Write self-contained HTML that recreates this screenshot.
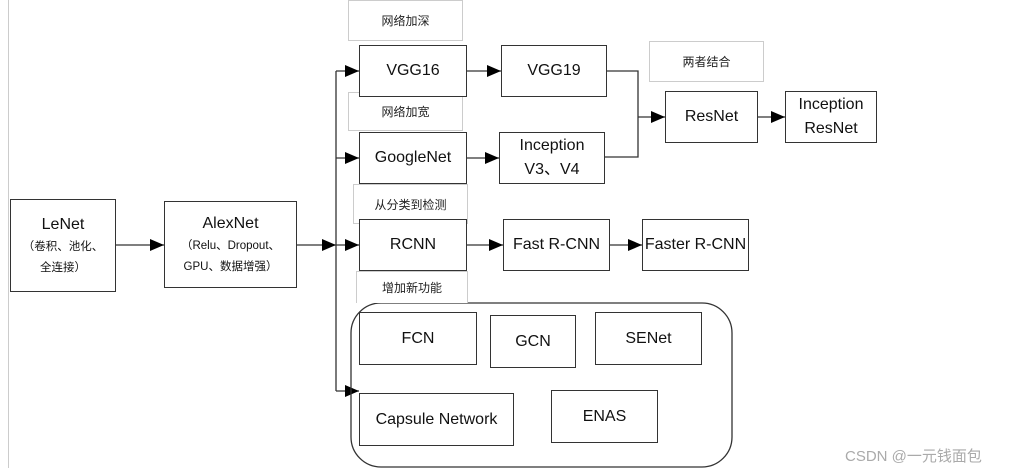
<!DOCTYPE html>
<html><head><meta charset="utf-8"><style>
body{margin:0;width:1016px;height:472px;background:#fff;position:relative;overflow:hidden;font-family:"Liberation Sans","Noto Sans CJK SC",sans-serif;color:#111}
.b{position:absolute;border:1.5px solid #333;box-sizing:border-box;display:flex;flex-direction:column;align-items:center;justify-content:center;text-align:center;font-size:16px;line-height:24px;background:#fff;white-space:nowrap}
.l{position:absolute;border:1px solid #ccc;box-sizing:border-box;display:flex;align-items:center;justify-content:center;font-size:12px;color:#222;background:#fff}
.s{font-size:11.5px;line-height:21px}
svg{position:absolute;left:0;top:0}
</style></head><body>
<div style="position:absolute;left:8px;top:0;width:1px;height:468px;background:#ccc"></div>
<svg width="1016" height="472">
<defs><marker id="a" markerWidth="14" markerHeight="12" refX="14" refY="6" orient="auto" markerUnits="userSpaceOnUse"><path d="M0,0L14,6L0,12z" fill="#000"/></marker></defs>
<g stroke="#333" stroke-width="1.3" fill="none">
<line x1="116" y1="245" x2="164" y2="245" marker-end="url(#a)"/>
<line x1="297" y1="245" x2="336" y2="245" marker-end="url(#a)"/>
<line x1="336" y1="71" x2="336" y2="391"/>
<line x1="336" y1="71" x2="359" y2="71" marker-end="url(#a)"/>
<line x1="336" y1="158" x2="359" y2="158" marker-end="url(#a)"/>
<line x1="336" y1="245" x2="359" y2="245" marker-end="url(#a)"/>
<line x1="336" y1="391" x2="359" y2="391" marker-end="url(#a)"/>
<line x1="467" y1="71" x2="501" y2="71" marker-end="url(#a)"/>
<line x1="467" y1="158" x2="499" y2="158" marker-end="url(#a)"/>
<polyline points="607,71 638,71 638,157 605,157"/>
<line x1="638" y1="117" x2="665" y2="117" marker-end="url(#a)"/>
<line x1="758" y1="117" x2="785" y2="117" marker-end="url(#a)"/>
<line x1="467" y1="245" x2="503" y2="245" marker-end="url(#a)"/>
<line x1="610" y1="245" x2="642" y2="245" marker-end="url(#a)"/>
<rect x="351" y="303" width="381" height="164" rx="30" stroke="#333" stroke-width="1.3"/>
</g></svg>
<div class="l" style="left:348px;top:0;width:115px;height:41px">网络加深</div>
<div class="l" style="left:348px;top:92px;width:115px;height:39px">网络加宽</div>
<div class="l" style="left:353px;top:184px;width:115px;height:40px">从分类到检测</div>
<div class="l" style="left:356px;top:271px;width:112px;height:32px;border-bottom:none">增加新功能</div>
<div class="l" style="left:649px;top:41px;width:115px;height:41px">两者结合</div>
<div class="b" style="left:10px;top:199px;width:106px;height:93px"><div>LeNet</div><div class="s">（卷积、池化、<br>全连接）</div></div>
<div class="b" style="left:164px;top:201px;width:133px;height:87px"><div>AlexNet</div><div class="s">（Relu、Dropout、<br>GPU、数据增强）</div></div>
<div class="b" style="left:359px;top:45px;width:108px;height:52px">VGG16</div>
<div class="b" style="left:501px;top:45px;width:106px;height:52px">VGG19</div>
<div class="b" style="left:359px;top:132px;width:108px;height:52px">GoogleNet</div>
<div class="b" style="left:499px;top:132px;width:106px;height:52px">Inception<br>V3、V4</div>
<div class="b" style="left:665px;top:91px;width:93px;height:52px">ResNet</div>
<div class="b" style="left:785px;top:91px;width:92px;height:52px">Inception<br>ResNet</div>
<div class="b" style="left:359px;top:219px;width:108px;height:52px">RCNN</div>
<div class="b" style="left:503px;top:219px;width:107px;height:52px">Fast R-CNN</div>
<div class="b" style="left:642px;top:219px;width:107px;height:52px">Faster R-CNN</div>
<div class="b" style="left:359px;top:312px;width:118px;height:53px">FCN</div>
<div class="b" style="left:490px;top:315px;width:86px;height:53px">GCN</div>
<div class="b" style="left:595px;top:312px;width:107px;height:53px">SENet</div>
<div class="b" style="left:359px;top:393px;width:155px;height:53px">Capsule Network</div>
<div class="b" style="left:551px;top:390px;width:107px;height:53px">ENAS</div>
<div style="position:absolute;left:845px;top:445px;font-size:15px;color:#aaa;white-space:nowrap">CSDN @一元钱面包</div>
</body></html>
